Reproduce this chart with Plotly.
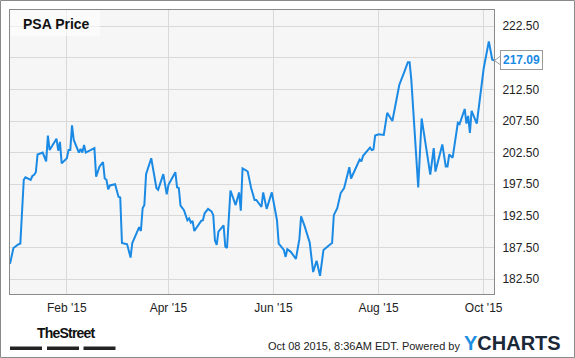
import plotly.graph_objects as go

dates = [
    "2014-12-30", "2015-01-01", "2015-01-04", "2015-01-05", "2015-01-07", "2015-01-08",
    "2015-01-11", "2015-01-12", "2015-01-13", "2015-01-14", "2015-01-15", "2015-01-18",
    "2015-01-20", "2015-01-21", "2015-01-22", "2015-01-26", "2015-01-27", "2015-01-28",
    "2015-01-29", "2015-02-01", "2015-02-02", "2015-02-03", "2015-02-04", "2015-02-05",
    "2015-02-08", "2015-02-09", "2015-02-10", "2015-02-11", "2015-02-12", "2015-02-16",
    "2015-02-17", "2015-02-18", "2015-02-20", "2015-02-22", "2015-02-23", "2015-02-24",
    "2015-02-25", "2015-02-26", "2015-03-01", "2015-03-03", "2015-03-04", "2015-03-05",
    "2015-03-08", "2015-03-10", "2015-03-11", "2015-03-15", "2015-03-16", "2015-03-17",
    "2015-03-18", "2015-03-19", "2015-03-22", "2015-03-25", "2015-03-26", "2015-03-29",
    "2015-03-31", "2015-04-01", "2015-04-03", "2015-04-05", "2015-04-06", "2015-04-07",
    "2015-04-08", "2015-04-10", "2015-04-12", "2015-04-13", "2015-04-14", "2015-04-15",
    "2015-04-16", "2015-04-20", "2015-04-21", "2015-04-22", "2015-04-24", "2015-04-26",
    "2015-04-27", "2015-04-28", "2015-04-29", "2015-04-30", "2015-05-03", "2015-05-04",
    "2015-05-05", "2015-05-07", "2015-05-10", "2015-05-12", "2015-05-13", "2015-05-14",
    "2015-05-16", "2015-05-17", "2015-05-19", "2015-05-21", "2015-05-22", "2015-05-25",
    "2015-05-26", "2015-05-28", "2015-05-31", "2015-06-03", "2015-06-04", "2015-06-07",
    "2015-06-08", "2015-06-09", "2015-06-11", "2015-06-14", "2015-06-16", "2015-06-17",
    "2015-06-19", "2015-06-22", "2015-06-24", "2015-06-26", "2015-06-28", "2015-06-30",
    "2015-07-04", "2015-07-05", "2015-07-06", "2015-07-08", "2015-07-10", "2015-07-12",
    "2015-07-15", "2015-07-16", "2015-07-21", "2015-07-22", "2015-07-23", "2015-07-27",
    "2015-07-28", "2015-07-29", "2015-07-30", "2015-08-01", "2015-08-04", "2015-08-06",
    "2015-08-09", "2015-08-13", "2015-08-16", "2015-08-18", "2015-08-19", "2015-08-20",
    "2015-08-24", "2015-08-26", "2015-08-31", "2015-09-02", "2015-09-03", "2015-09-07",
    "2015-09-09", "2015-09-10", "2015-09-11", "2015-09-13", "2015-09-16", "2015-09-17",
    "2015-09-20", "2015-09-21", "2015-09-22", "2015-09-23", "2015-09-24", "2015-09-27",
    "2015-10-01", "2015-10-04", "2015-10-06", "2015-10-07",
]

prices = [
    184.9, 187.4, 188.0, 188.1, 198.2, 198.6,
    198.2, 198.8, 199.0, 199.4, 202.2, 202.5,
    201.1, 205.2, 202.9, 204.7, 202.8, 204.2,
    200.8, 201.6, 202.9, 202.9, 206.8, 204.5,
    202.5, 203.1, 202.5, 203.7, 202.5, 203.0,
    203.2, 198.7, 200.3, 201.0, 198.4, 198.2,
    196.7, 197.3, 197.5, 195.5, 195.4, 188.2,
    188.0, 185.9, 188.2, 190.7, 190.1, 193.7,
    194.2, 199.1, 201.6, 196.9, 196.6, 199.1,
    195.9, 197.4, 198.3, 199.4, 197.0, 196.9,
    194.1, 193.4, 191.8, 192.1, 191.4, 191.7,
    190.1, 191.7, 191.8, 192.9, 193.6, 193.2,
    192.6, 188.6, 187.9, 190.0, 191.0, 187.6,
    187.4, 196.5, 194.2, 196.2, 193.3, 200.0,
    199.7, 199.5, 196.9, 195.0, 195.0, 193.9,
    196.2, 193.6, 196.2, 191.8, 188.1, 187.1,
    186.0, 187.2, 186.8, 185.7, 188.8, 192.4,
    190.9, 188.3, 183.6, 185.4, 183.0, 187.1,
    188.0, 188.2, 192.6, 193.7, 196.1, 196.9,
    200.2, 198.4, 201.4, 201.1, 202.0, 203.3,
    202.9, 203.0, 205.2, 205.4, 205.3, 208.8,
    207.5, 213.2, 215.3, 216.8, 216.8, 214.0,
    197.0, 207.9, 199.0, 203.2, 199.5, 203.8,
    200.3, 200.3, 202.2, 201.7, 207.2, 207.0,
    209.4, 207.1, 208.3, 205.6, 209.1, 207.1,
    215.8, 220.1, 217.2, 217.09,
]

y_ticks = [182.5, 187.5, 192.5, 197.5, 202.5, 207.5, 212.5, 217.5, 222.5]
# the 217.50 label is covered by the last-value marker in the original
y_tick_labels = ["182.50", "187.50", "192.50", "197.50", "202.50", "207.50", "212.50", "", "222.50"]
title_text = "PSA Price"
last_label = "217.09"
footer_text = "Oct 08 2015, 8:36AM EDT. Powered by"

BLUE = "#1a8ae5"
FONT = "Liberation Sans, Arial, sans-serif"

# plot area in pixels
L, R, T, B = 10, 494, 10, 294
W, H = 575, 358


def px(x):
    return (x - L) / (R - L)


def py(y):
    return (B - y) / (B - T)


fig = go.Figure()
fig.add_trace(go.Scatter(
    x=dates, y=prices, mode="lines",
    line=dict(color=BLUE, width=2),
    hoverinfo="skip", showlegend=False,
))

shapes = [
    # outer frame
    dict(type="rect", xref="paper", yref="paper",
         x0=px(0.5), x1=px(W - 0.5), y0=py(H - 0.5), y1=py(0.5),
         line=dict(color="#8a8a8a", width=1), layer="above"),
    # title backdrop
    dict(type="rect", xref="paper", yref="paper",
         x0=px(10.5), x1=px(100), y0=py(36), y1=py(10.5),
         fillcolor="rgba(255,255,255,0.55)", line=dict(width=0), layer="above"),
    # TheStreet bars
    dict(type="rect", xref="paper", yref="paper",
         x0=px(10), x1=px(42), y0=py(350), y1=py(346.5),
         fillcolor="#222", line=dict(width=0)),
    dict(type="rect", xref="paper", yref="paper",
         x0=px(47), x1=px(79), y0=py(350), y1=py(346.5),
         fillcolor="#222", line=dict(width=0)),
    dict(type="rect", xref="paper", yref="paper",
         x0=px(83.5), x1=px(115.5), y0=py(350), y1=py(346.5),
         fillcolor="#222", line=dict(width=0)),
    # pointer of last value label
    dict(type="path", xref="paper", yref="paper",
         path="M %f %f L %f %f L %f %f" % (px(500), py(56.5), px(494.5), py(60.5), px(500), py(64.5)),
         fillcolor="white", line=dict(color="#999", width=1), layer="above"),
]

annotations = [
    dict(xref="paper", yref="paper", x=px(21), y=py(24), xanchor="left", yanchor="middle",
         text="<b>%s</b>" % title_text, showarrow=False,
         font=dict(family=FONT, size=14, color="#111")),
    dict(xref="paper", yref="y", x=px(499.5), y=prices[-1], xanchor="left", yanchor="middle",
         text="<b>%s</b>" % last_label, showarrow=False,
         bgcolor="white", bordercolor="#999", borderwidth=1, borderpad=2,
         font=dict(family=FONT, size=12, color=BLUE)),
    dict(xref="paper", yref="paper", x=px(35), y=py(333), xanchor="left", yanchor="middle",
         text="<b><span style='letter-spacing:-0.8px'>TheStreet</span></b>", showarrow=False,
         font=dict(family="Liberation Sans Narrow, Arial Narrow, Liberation Sans", size=14, color="#111")),
    dict(xref="paper", yref="paper", x=px(462), y=py(346), xanchor="right", yanchor="middle",
         text=footer_text, showarrow=False,
         font=dict(family=FONT, size=11, color="#222")),
    dict(xref="paper", yref="paper", x=px(462), y=py(343), xanchor="left", yanchor="middle",
         text="<b><span style='color:#1c8fe3'>Y</span>CHARTS</b>", showarrow=False,
         font=dict(family=FONT, size=20, color="#1b2838")),
]

fig.update_layout(
    width=W, height=H,
    margin=dict(l=L, r=W - R, t=T, b=H - B, pad=0),
    paper_bgcolor="white", plot_bgcolor="#f6f6f6",
    font=dict(family=FONT, size=12, color="#222"),
    shapes=shapes, annotations=annotations,
    xaxis=dict(
        type="date", range=["2014-12-30", "2015-10-07"],
        tick0="2015-02-01", dtick="M2", tickformat="%b '%y",
        showgrid=True, gridcolor="#d9d9d9", gridwidth=1,
        showline=True, linecolor="#8a8a8a", linewidth=1, mirror=True,
        ticks="", ticklabelstandoff=3, zeroline=False,
        tickfont=dict(family=FONT, size=12, color="#222"),
    ),
    yaxis=dict(
        range=[180.13, 225.06], side="right",
        tickvals=y_ticks, ticktext=y_tick_labels,
        showgrid=True, gridcolor="#d9d9d9", gridwidth=1,
        showline=True, linecolor="#8a8a8a", linewidth=1, mirror=True,
        ticks="", ticklabelstandoff=5, zeroline=False,
        tickfont=dict(family=FONT, size=12, color="#222"),
    ),
)

fig.write_html("out.html")
